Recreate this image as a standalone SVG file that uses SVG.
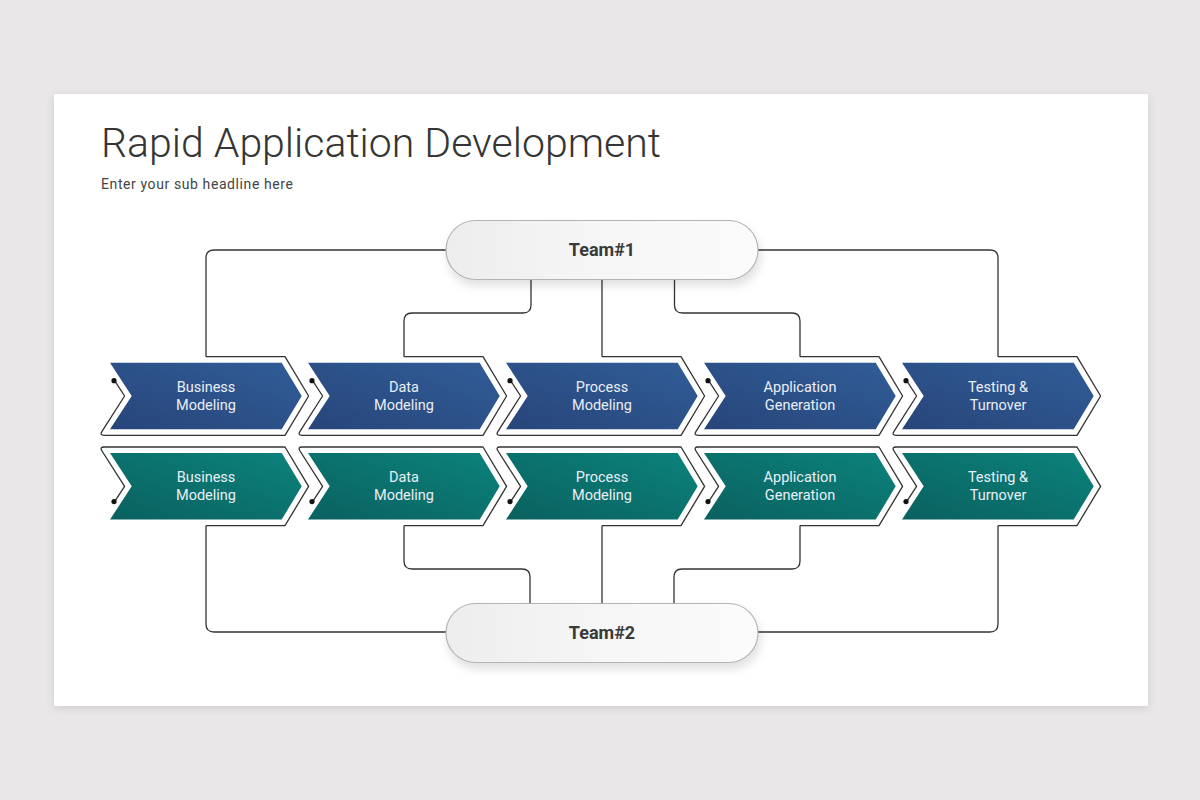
<svg xmlns="http://www.w3.org/2000/svg" xmlns:xlink="http://www.w3.org/1999/xlink" width="1200" height="800" viewBox="0 0 1200 800">
  <defs>
    <linearGradient id="gBlue" x1="0" y1="1" x2="1" y2="0">
      <stop offset="0" stop-color="#27457a"/>
      <stop offset="1" stop-color="#315d98"/>
    </linearGradient>
    <linearGradient id="gTeal" x1="0" y1="1" x2="1" y2="0">
      <stop offset="0" stop-color="#0a615f"/>
      <stop offset="1" stop-color="#0c827c"/>
    </linearGradient>
    <linearGradient id="gPill" x1="0" y1="0" x2="1" y2="0">
      <stop offset="0" stop-color="#ededed"/>
      <stop offset="0.5" stop-color="#f6f6f6"/>
      <stop offset="1" stop-color="#fbfbfb"/>
    </linearGradient>
    <filter id="slideShadow" x="-5%" y="-5%" width="110%" height="110%">
      <feDropShadow dx="0" dy="2" stdDeviation="4" flood-color="#000" flood-opacity="0.12"/>
    </filter>
    <filter id="pillShadow" x="-10%" y="-20%" width="120%" height="160%">
      <feDropShadow dx="2" dy="6" stdDeviation="5" flood-color="#000" flood-opacity="0.12"/>
    </filter>
    <path id="chevTop" d="M110,362.7 H281.7 L301.7,396 L281.7,429.3 H110 L131.7,396 Z"/>
    <path id="chevBot" d="M110,453 H281.7 L301.7,486.3 L281.7,519.6 H110 L131.7,486.3 Z"/>
    <path id="outTop" d="M206,356.7 H285 L308.6,396 L285,435.3 H104 Q99.5,435.3 102,431.3 L124.6,396 L114.6,380.7"/>
    <path id="outBot" d="M206,525.6 H285 L308.6,486.3 L285,447 H104 Q99.5,447 102,451 L124.6,486.3 L114.6,501.6"/>
  </defs>
  <style>
    .line { fill: none; stroke: #333333; stroke-width: 1.3; stroke-linejoin: round; }
    .dot { fill: #111111; }
    .lbl { font-family: Roboto, "Liberation Sans", sans-serif; font-size: 14.5px; fill: #e9eff6; text-anchor: middle; }
    .team { font-family: Roboto, "Liberation Sans", sans-serif; font-size: 18px; font-weight: bold; fill: #3a3a3a; text-anchor: middle; }
    .pill { fill: url(#gPill); stroke: #b3b3b3; stroke-width: 1.2; }
  </style>

  <rect x="0" y="0" width="1200" height="800" fill="#e9e7e8"/>
  <rect x="54" y="94" width="1094" height="612" fill="#ffffff" filter="url(#slideShadow)"/>

  <g id="title">
    <text x="101" y="157" font-family="Roboto, 'Liberation Sans', sans-serif" font-size="41" font-weight="300" fill="#353535">Rapid Application Development</text>
    <text x="101" y="189" font-family="Roboto, 'Liberation Sans', sans-serif" font-size="14" fill="#444444" textLength="192" lengthAdjust="spacing">Enter your sub headline here</text>
  </g>

  <g id="connectors">
    <path class="line" d="M446,250 H214 Q206,250 206,258 V356.7"/>
    <path class="line" d="M531,279 V305 Q531,313 523,313 H412 Q404,313 404,321 V356.7"/>
    <path class="line" d="M602,279 V356.7"/>
    <path class="line" d="M674.5,279 V305 Q674.5,313 682.5,313 H792 Q800,313 800,321 V356.7"/>
    <path class="line" d="M758,250 H990 Q998,250 998,258 V356.7"/>
    <path class="line" d="M206,525.6 V624 Q206,632 214,632 H446"/>
    <path class="line" d="M404,525.6 V561 Q404,569 412,569 H522 Q530,569 530,577 V603"/>
    <path class="line" d="M602,525.6 V603"/>
    <path class="line" d="M800,525.6 V561 Q800,569 792,569 H682 Q674,569 674,577 V603"/>
    <path class="line" d="M998,525.6 V624 Q998,632 990,632 H758"/>
  </g>

  <g id="team1">
    <rect class="pill" x="446" y="220.5" width="312" height="59" rx="29.5" filter="url(#pillShadow)"/>
    <text class="team" x="602" y="256">Team#1</text>
  </g>
  <g id="team2">
    <rect class="pill" x="446" y="603.5" width="312" height="59" rx="29.5" filter="url(#pillShadow)"/>
    <text class="team" x="602" y="639">Team#2</text>
  </g>

  <g id="blue-1">
    <use xlink:href="#chevTop" fill="url(#gBlue)"/>
    <use xlink:href="#outTop" class="line"/>
    <circle class="dot" cx="114" cy="380.7" r="2.6"/>
    <text class="lbl" x="206" y="392">Business</text>
    <text class="lbl" x="206" y="410">Modeling</text>
  </g>
  <g id="blue-2" transform="translate(198,0)">
    <use xlink:href="#chevTop" fill="url(#gBlue)"/>
    <use xlink:href="#outTop" class="line"/>
    <circle class="dot" cx="114" cy="380.7" r="2.6"/>
    <text class="lbl" x="206" y="392">Data</text>
    <text class="lbl" x="206" y="410">Modeling</text>
  </g>
  <g id="blue-3" transform="translate(396,0)">
    <use xlink:href="#chevTop" fill="url(#gBlue)"/>
    <use xlink:href="#outTop" class="line"/>
    <circle class="dot" cx="114" cy="380.7" r="2.6"/>
    <text class="lbl" x="206" y="392">Process</text>
    <text class="lbl" x="206" y="410">Modeling</text>
  </g>
  <g id="blue-4" transform="translate(594,0)">
    <use xlink:href="#chevTop" fill="url(#gBlue)"/>
    <use xlink:href="#outTop" class="line"/>
    <circle class="dot" cx="114" cy="380.7" r="2.6"/>
    <text class="lbl" x="206" y="392">Application</text>
    <text class="lbl" x="206" y="410">Generation</text>
  </g>
  <g id="blue-5" transform="translate(792,0)">
    <use xlink:href="#chevTop" fill="url(#gBlue)"/>
    <use xlink:href="#outTop" class="line"/>
    <circle class="dot" cx="114" cy="380.7" r="2.6"/>
    <text class="lbl" x="206" y="392">Testing &amp;</text>
    <text class="lbl" x="206" y="410">Turnover</text>
  </g>

  <g id="teal-1">
    <use xlink:href="#chevBot" fill="url(#gTeal)"/>
    <use xlink:href="#outBot" class="line"/>
    <circle class="dot" cx="114" cy="501.6" r="2.6"/>
    <text class="lbl" x="206" y="482">Business</text>
    <text class="lbl" x="206" y="500">Modeling</text>
  </g>
  <g id="teal-2" transform="translate(198,0)">
    <use xlink:href="#chevBot" fill="url(#gTeal)"/>
    <use xlink:href="#outBot" class="line"/>
    <circle class="dot" cx="114" cy="501.6" r="2.6"/>
    <text class="lbl" x="206" y="482">Data</text>
    <text class="lbl" x="206" y="500">Modeling</text>
  </g>
  <g id="teal-3" transform="translate(396,0)">
    <use xlink:href="#chevBot" fill="url(#gTeal)"/>
    <use xlink:href="#outBot" class="line"/>
    <circle class="dot" cx="114" cy="501.6" r="2.6"/>
    <text class="lbl" x="206" y="482">Process</text>
    <text class="lbl" x="206" y="500">Modeling</text>
  </g>
  <g id="teal-4" transform="translate(594,0)">
    <use xlink:href="#chevBot" fill="url(#gTeal)"/>
    <use xlink:href="#outBot" class="line"/>
    <circle class="dot" cx="114" cy="501.6" r="2.6"/>
    <text class="lbl" x="206" y="482">Application</text>
    <text class="lbl" x="206" y="500">Generation</text>
  </g>
  <g id="teal-5" transform="translate(792,0)">
    <use xlink:href="#chevBot" fill="url(#gTeal)"/>
    <use xlink:href="#outBot" class="line"/>
    <circle class="dot" cx="114" cy="501.6" r="2.6"/>
    <text class="lbl" x="206" y="482">Testing &amp;</text>
    <text class="lbl" x="206" y="500">Turnover</text>
  </g>
</svg>
